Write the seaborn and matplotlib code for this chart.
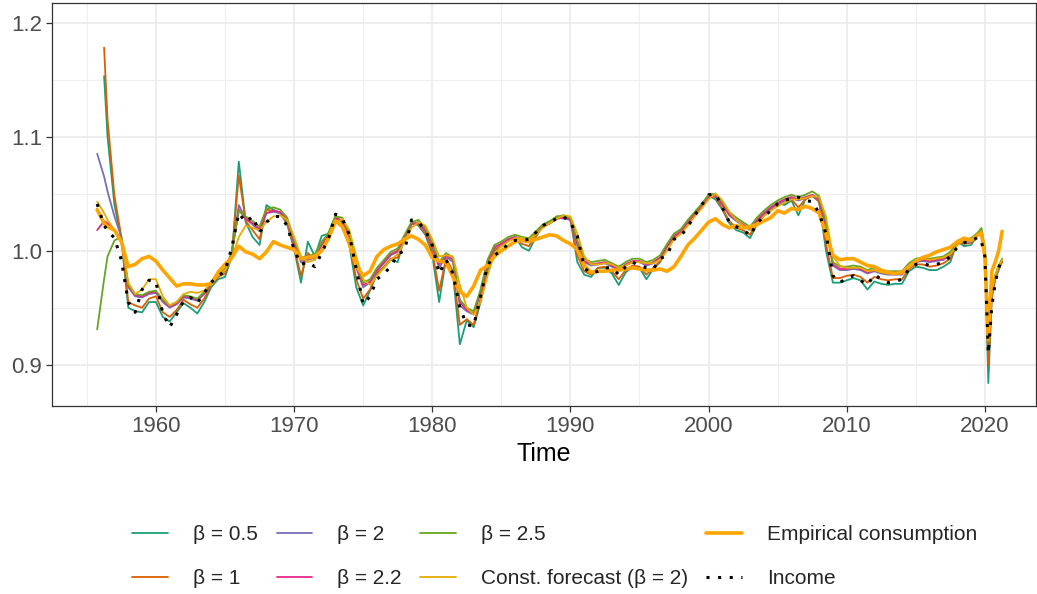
import numpy as np
import pandas as pd
import matplotlib
matplotlib.use("Agg")
import matplotlib.pyplot as plt
from matplotlib.lines import Line2D
from matplotlib.ticker import FixedLocator
import seaborn as sns

nan = np.nan

# ---------------- data ----------------
years = np.concatenate([
    [1955.75, 1956.25],
    [1956.5, 1957.0, 1957.5, 1958.0, 1958.5, 1959.0, 1959.5],
    np.arange(1960.0, 2019.51, 0.5),
    [2019.75, 2020.0, 2020.25, 2020.5, 2020.75, 2021.0, 2021.25],
])

income = (
    [1.041, 1.022]
    + [1.018, 1.011, 0.992, 0.955, 0.946, 0.966, 0.974]
    + [0.973, 0.945, 0.933, 0.944, 0.956, 0.959, 0.954, 0.963, 0.972, 0.978,
       0.982, 1.003, 1.033, 1.025, 1.030, 1.016, 1.025, 1.030, 1.030, 1.022]
    + [1.001, 0.988, 0.990, 0.986, 0.998, 1.011, 1.032, 1.028, 1.014, 0.984,
       0.953, 0.960, 0.975, 0.980, 0.986, 0.997, 1.000, 1.027, 1.025, 1.018]
    + [1.005, 0.980, 0.992, 0.980, 0.950, 0.935, 0.934, 0.960, 0.987, 0.996,
       1.000, 1.006, 1.009, 1.009, 1.010, 1.016, 1.022, 1.025, 1.028, 1.030]
    + [1.025, 1.013, 0.985, 0.980, 0.982, 0.985, 0.985, 0.979, 0.986, 0.990,
       0.987, 0.985, 0.984, 0.993, 0.996, 1.010, 1.013, 1.021, 1.031, 1.040]
    + [1.049, 1.050, 1.038, 1.025, 1.021, 1.019, 1.013, 1.024, 1.030, 1.035,
       1.041, 1.044, 1.046, 1.047, 1.044, 1.043, 1.033, 1.015, 0.978, 0.972]
    + [0.976, 0.978, 0.974, 0.970, 0.979, 0.975, 0.972, 0.973, 0.975, 0.984,
       0.988, 0.989, 0.987, 0.988, 0.990, 0.995, 1.003, 1.007, 1.008, 1.012]
    + [1.008, 0.995, 0.910, 0.951, 0.972, 0.985, 0.993]
)

empirical = (
    [1.036, 1.024]
    + [1.021, 1.018, 1.008, 0.986, 0.988, 0.993, 0.995]
    + [0.991, 0.983, 0.976, 0.969, 0.971, 0.971, 0.970, 0.970, 0.971, 0.981,
       0.988, 0.994, 1.004, 0.999, 0.997, 0.993, 0.999, 1.008, 1.005, 1.003]
    + [1.001, 0.993, 0.994, 0.995, 1.000, 1.011, 1.026, 1.021, 1.006, 0.987,
       0.978, 0.982, 0.995, 1.001, 1.004, 1.006, 1.010, 1.013, 1.010, 1.005]
    + [0.994, 0.991, 0.990, 0.977, 0.964, 0.960, 0.969, 0.983, 0.987, 0.995,
       1.000, 1.004, 1.008, 1.009, 1.008, 1.010, 1.012, 1.014, 1.013, 1.009]
    + [1.006, 1.001, 0.987, 0.981, 0.982, 0.982, 0.983, 0.983, 0.984, 0.985,
       0.984, 0.983, 0.983, 0.984, 0.982, 0.986, 0.995, 1.005, 1.011, 1.018]
    + [1.025, 1.028, 1.023, 1.020, 1.022, 1.020, 1.021, 1.023, 1.026, 1.029,
       1.035, 1.033, 1.037, 1.036, 1.039, 1.037, 1.033, 1.015, 0.996, 0.992]
    + [0.993, 0.993, 0.990, 0.987, 0.986, 0.983, 0.981, 0.980, 0.981, 0.986,
       0.991, 0.994, 0.996, 0.999, 1.001, 1.003, 1.008, 1.011, 1.009, 1.014]
    + [1.015, 0.995, 0.922, 0.982, 0.990, 1.000, 1.017]
)

beta_05 = (
    [nan, 1.153]
    + [1.100, 1.040, 1.010, 0.950, 0.947, 0.946, 0.955]
    + [0.955, 0.942, 0.938, 0.946, 0.954, 0.950, 0.945, 0.955, 0.968, 0.975,
       0.977, 0.995, 1.078, 1.025, 1.012, 1.005, 1.040, 1.036, 1.033, 1.023]
    + [1.002, 0.972, 1.008, 0.995, 1.013, 1.015, 1.031, 1.024, 1.005, 0.968,
       0.952, 0.965, 0.980, 0.985, 0.992, 0.990, 1.012, 1.025, 1.022, 1.014]
    + [0.997, 0.955, 0.993, 0.980, 0.918, 0.939, 0.933, 0.955, 0.982, 1.000,
       1.004, 1.009, 1.012, 1.003, 1.000, 1.012, 1.022, 1.024, 1.030, 1.028]
    + [1.028, 0.990, 0.979, 0.977, 0.985, 0.985, 0.980, 0.970, 0.981, 0.986,
       0.985, 0.975, 0.984, 0.990, 1.004, 1.011, 1.015, 1.026, 1.033, 1.040]
    + [1.048, 1.045, 1.036, 1.024, 1.018, 1.016, 1.011, 1.023, 1.031, 1.037,
       1.042, 1.040, 1.044, 1.031, 1.045, 1.049, 1.043, 1.000, 0.972, 0.972]
    + [0.974, 0.976, 0.974, 0.966, 0.973, 0.971, 0.970, 0.971, 0.971, 0.982,
       0.986, 0.985, 0.983, 0.983, 0.986, 0.990, 1.008, 1.004, 1.005, 1.014]
    + [1.017, 0.998, 0.884, 0.960, 0.975, 0.983, 0.992]
)

beta_1 = (
    [nan, 1.178]
    + [1.115, 1.048, 1.012, 0.955, 0.952, 0.950, 0.958]
    + [0.960, 0.946, 0.942, 0.948, 0.957, 0.953, 0.950, 0.958, 0.970, 0.977,
       0.980, 0.997, 1.066, 1.026, 1.018, 1.010, 1.036, 1.035, 1.033, 1.024]
    + [1.003, 0.978, 0.998, 0.992, 1.008, 1.014, 1.030, 1.025, 1.008, 0.975,
       0.958, 0.966, 0.980, 0.986, 0.993, 0.994, 1.012, 1.024, 1.023, 1.015]
    + [1.000, 0.965, 0.993, 0.982, 0.935, 0.940, 0.935, 0.958, 0.985, 1.001,
       1.004, 1.009, 1.011, 1.006, 1.004, 1.013, 1.021, 1.024, 1.029, 1.029]
    + [1.028, 0.996, 0.982, 0.979, 0.985, 0.986, 0.982, 0.975, 0.983, 0.987,
       0.986, 0.979, 0.985, 0.991, 1.004, 1.012, 1.016, 1.025, 1.033, 1.040]
    + [1.048, 1.047, 1.037, 1.026, 1.020, 1.018, 1.014, 1.024, 1.031, 1.036,
       1.041, 1.042, 1.045, 1.038, 1.045, 1.048, 1.043, 1.006, 0.976, 0.976]
    + [0.978, 0.979, 0.977, 0.972, 0.977, 0.975, 0.974, 0.975, 0.975, 0.984,
       0.988, 0.988, 0.986, 0.987, 0.989, 0.993, 1.007, 1.006, 1.007, 1.014]
    + [1.016, 0.999, 0.900, 0.958, 0.976, 0.984, 0.990]
)

beta_2 = (
    [1.085, 1.065]
    + [1.052, 1.030, 1.012, 0.968, 0.960, 0.959, 0.962]
    + [0.963, 0.955, 0.950, 0.953, 0.959, 0.958, 0.956, 0.962, 0.971, 0.978,
       0.983, 0.998, 1.040, 1.028, 1.023, 1.017, 1.033, 1.034, 1.033, 1.026]
    + [1.006, 0.990, 0.992, 0.994, 1.005, 1.014, 1.028, 1.026, 1.012, 0.985,
       0.968, 0.972, 0.982, 0.989, 0.996, 0.999, 1.012, 1.023, 1.024, 1.017]
    + [1.004, 0.985, 0.995, 0.990, 0.952, 0.947, 0.944, 0.964, 0.990, 1.003,
       1.006, 1.010, 1.012, 1.010, 1.009, 1.015, 1.021, 1.024, 1.028, 1.029]
    + [1.027, 1.005, 0.990, 0.987, 0.988, 0.989, 0.986, 0.983, 0.987, 0.990,
       0.990, 0.987, 0.989, 0.994, 1.004, 1.013, 1.017, 1.025, 1.032, 1.039]
    + [1.047, 1.048, 1.040, 1.031, 1.026, 1.022, 1.018, 1.026, 1.032, 1.037,
       1.041, 1.044, 1.046, 1.044, 1.046, 1.048, 1.045, 1.020, 0.987, 0.983]
    + [0.983, 0.984, 0.983, 0.980, 0.982, 0.980, 0.979, 0.979, 0.979, 0.986,
       0.990, 0.991, 0.990, 0.991, 0.992, 0.996, 1.006, 1.008, 1.008, 1.014]
    + [1.016, 1.000, 0.925, 0.962, 0.977, 0.985, 0.991]
)

beta_22 = (
    [1.018, 1.026]
    + [1.024, 1.018, 1.010, 0.969, 0.961, 0.960, 0.963]
    + [0.964, 0.956, 0.951, 0.954, 0.960, 0.959, 0.957, 0.963, 0.972, 0.978,
       0.983, 0.998, 1.036, 1.028, 1.024, 1.019, 1.033, 1.035, 1.034, 1.027]
    + [1.008, 0.992, 0.993, 0.995, 1.005, 1.014, 1.028, 1.027, 1.013, 0.987,
       0.970, 0.973, 0.983, 0.990, 0.997, 1.000, 1.012, 1.023, 1.025, 1.018]
    + [1.005, 0.988, 0.996, 0.992, 0.955, 0.948, 0.945, 0.964, 0.990, 1.003,
       1.006, 1.010, 1.012, 1.010, 1.009, 1.015, 1.021, 1.024, 1.028, 1.029]
    + [1.027, 1.007, 0.991, 0.988, 0.989, 0.990, 0.987, 0.984, 0.988, 0.991,
       0.991, 0.988, 0.990, 0.994, 1.004, 1.013, 1.017, 1.025, 1.032, 1.039]
    + [1.047, 1.049, 1.041, 1.032, 1.027, 1.023, 1.019, 1.027, 1.033, 1.038,
       1.042, 1.045, 1.047, 1.045, 1.047, 1.049, 1.046, 1.022, 0.988, 0.984]
    + [0.984, 0.985, 0.984, 0.981, 0.983, 0.981, 0.980, 0.980, 0.980, 0.987,
       0.991, 0.992, 0.991, 0.992, 0.993, 0.997, 1.006, 1.009, 1.009, 1.015]
    + [1.017, 1.001, 0.928, 0.963, 0.978, 0.986, 0.992]
)

beta_25 = (
    [0.931, 0.975]
    + [0.995, 1.009, 1.012, 0.970, 0.962, 0.961, 0.964]
    + [0.965, 0.957, 0.952, 0.955, 0.961, 0.960, 0.958, 0.964, 0.973, 0.979,
       0.984, 0.999, 1.035, 1.030, 1.026, 1.021, 1.037, 1.038, 1.036, 1.029]
    + [1.010, 0.994, 0.995, 0.997, 1.007, 1.016, 1.030, 1.029, 1.015, 0.989,
       0.972, 0.975, 0.985, 0.992, 0.999, 1.002, 1.014, 1.025, 1.027, 1.020]
    + [1.007, 0.990, 0.998, 0.994, 0.957, 0.950, 0.947, 0.966, 0.992, 1.005,
       1.008, 1.012, 1.014, 1.012, 1.011, 1.017, 1.023, 1.026, 1.030, 1.031]
    + [1.029, 1.009, 0.993, 0.990, 0.991, 0.992, 0.989, 0.986, 0.990, 0.993,
       0.993, 0.990, 0.992, 0.996, 1.006, 1.015, 1.019, 1.027, 1.034, 1.041]
    + [1.049, 1.050, 1.043, 1.034, 1.029, 1.025, 1.021, 1.029, 1.035, 1.040,
       1.044, 1.047, 1.049, 1.047, 1.049, 1.052, 1.048, 1.025, 0.990, 0.986]
    + [0.986, 0.987, 0.986, 0.983, 0.985, 0.983, 0.982, 0.982, 0.982, 0.989,
       0.993, 0.994, 0.993, 0.994, 0.995, 0.999, 1.008, 1.010, 1.011, 1.016]
    + [1.020, 1.002, 0.930, 0.964, 0.979, 0.987, 0.993]
)

const_forecast = (
    [1.043, 1.033]
    + [1.027, 1.018, 1.008, 0.972, 0.962, 0.966, 0.975]
    + [0.975, 0.960, 0.952, 0.955, 0.962, 0.964, 0.963, 0.965, 0.972, 0.978,
       0.983, 0.993, 1.012, 1.022, 1.020, 1.018, 1.025, 1.030, 1.031, 1.027]
    + [1.012, 0.995, 0.990, 0.992, 1.000, 1.010, 1.024, 1.028, 1.018, 0.995,
       0.975, 0.970, 0.978, 0.985, 0.992, 0.997, 1.008, 1.020, 1.025, 1.022]
    + [1.010, 0.995, 0.996, 0.995, 0.970, 0.950, 0.944, 0.955, 0.978, 0.997,
       1.004, 1.008, 1.011, 1.011, 1.010, 1.014, 1.020, 1.024, 1.028, 1.031]
    + [1.030, 1.015, 0.995, 0.988, 0.988, 0.989, 0.988, 0.985, 0.987, 0.990,
       0.990, 0.989, 0.989, 0.992, 1.000, 1.010, 1.015, 1.022, 1.030, 1.037]
    + [1.045, 1.050, 1.044, 1.034, 1.027, 1.022, 1.018, 1.022, 1.030, 1.035,
       1.039, 1.042, 1.045, 1.045, 1.046, 1.048, 1.047, 1.030, 0.995, 0.987]
    + [0.985, 0.985, 0.985, 0.982, 0.983, 0.981, 0.980, 0.980, 0.980, 0.986,
       0.991, 0.993, 0.992, 0.993, 0.994, 0.997, 1.005, 1.009, 1.009, 1.014]
    + [1.017, 1.003, 0.935, 0.965, 0.978, 0.986, 0.992]
)

model_labels = ["β = 0.5", "β = 1", "β = 2", "β = 2.2", "β = 2.5",
                "Const. forecast (β = 2)"]
model_values = [beta_05, beta_1, beta_2, beta_22, beta_25, const_forecast]
model_colors = ["#1B9E77", "#D95F02", "#7570B3", "#E7298A", "#66A61E", "#E6AB02"]

x_breaks = [1960, 1970, 1980, 1990, 2000, 2010, 2020]
y_breaks = [0.9, 1.0, 1.1, 1.2]

# ---------------- plot ----------------
sns.set_theme(style="white")
plt.rcParams['font.family'] = ['Liberation Sans', 'DejaVu Sans']

W, H = 1037, 594
fig = plt.figure(figsize=(W / 100, H / 100), dpi=100)
ax = fig.add_axes([52 / W, 1 - 406 / H, (1036 - 52) / W, (406 - 3) / H])

DOT = (0, (1, 2.8))

for lab, vals, col in zip(model_labels, model_values, model_colors):
    df = pd.DataFrame({"Time": years, "value": vals}).dropna()
    sns.lineplot(data=df, x="Time", y="value", ax=ax, color=col, lw=1.3,
                 legend=False, estimator=None, sort=False)

df_e = pd.DataFrame({"Time": years, "value": empirical})
sns.lineplot(data=df_e, x="Time", y="value", ax=ax, color="#FFA500", lw=2.6,
             legend=False, estimator=None, sort=False)
df_i = pd.DataFrame({"Time": years, "value": income})
sns.lineplot(data=df_i, x="Time", y="value", ax=ax, color="black", lw=2.2,
             linestyle=DOT, legend=False, estimator=None, sort=False)

ax.set_xlim(1952.48, 2023.7)
ax.set_ylim(0.8639, 1.2171)
ax.xaxis.set_major_locator(FixedLocator(x_breaks))
ax.xaxis.set_minor_locator(FixedLocator([1955, 1965, 1975, 1985, 1995, 2005, 2015]))
ax.yaxis.set_major_locator(FixedLocator(y_breaks))
ax.yaxis.set_minor_locator(FixedLocator([0.95, 1.05, 1.15]))
ax.set_yticklabels(["0.9", "1.0", "1.1", "1.2"])

ax.grid(which="major", color="#EBEBEB", lw=1.2)
ax.grid(which="minor", color="#EBEBEB", lw=0.6)
ax.set_axisbelow(True)
for s in ax.spines.values():
    s.set_visible(True)
    s.set_color("#333333")
    s.set_linewidth(0.9)
ax.tick_params(which="major", direction="out", length=4, width=0.9,
               color="#333333", labelcolor="#4D4D4D", labelsize=16, pad=3,
               bottom=True, left=True)
ax.tick_params(which="minor", length=0)
ax.set_xlabel("Time", fontsize=18, color="black", labelpad=4)
ax.set_ylabel("")

handles = [Line2D([], [], color=c, lw=1.3) for c in model_colors]
handles.append(Line2D([], [], color="#FFA500", lw=2.6))
handles.append(Line2D([], [], color="black", lw=2.2, linestyle=DOT))
labels = model_labels + ["Empirical consumption", "Income"]
fig.legend(handles, labels, ncol=4, loc="center",
           bbox_to_anchor=(0.535, 1 - 557 / H), frameon=False, fontsize=15,
           handlelength=1.7, handletextpad=1.2, columnspacing=0.9,
           labelspacing=1.2)

fig.savefig("out.png", dpi=100)
